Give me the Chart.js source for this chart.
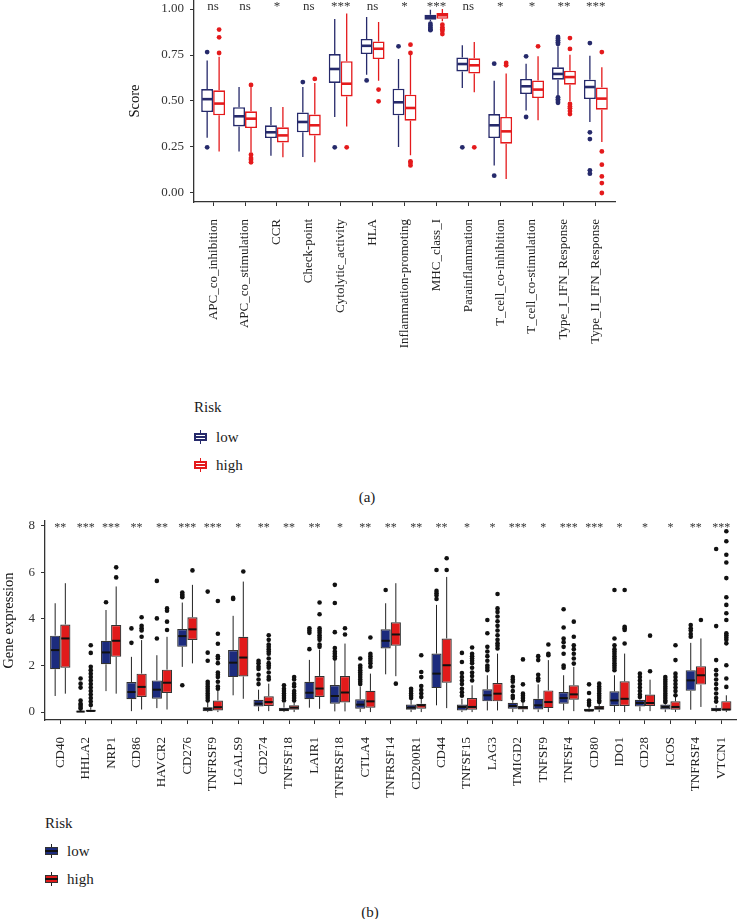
<!DOCTYPE html>
<html>
<head>
<meta charset="utf-8">
<script src="https://cdn.jsdelivr.net/npm/chart.js@4.4.1/dist/chart.umd.min.js"></script>
<style>
  html, body { margin: 0; padding: 0; background: #fff; }
  body { width: 744px; height: 919px; position: relative; overflow: hidden;
         font-family: 'Liberation Serif', 'DejaVu Serif', serif; color: #1a1a1a; }
  canvas { position: absolute; left: 0; }
  #chartA { top: -14px; }
  #chartB { top: 507px; }
  .lbl { position: absolute; font-size: 15px; line-height: 16px; white-space: nowrap; }
  .cap { transform: translateX(-50%); }
  .key { position: absolute; width: 13px; height: 14px; }
  .key .w { position: absolute; left: 5.5px; top: 0; width: 1.5px; height: 14px; }
  .key .b { position: absolute; left: 0; top: 3px; width: 13px; height: 8px; box-sizing: border-box; border: 2px solid; }
  .key .m { position: absolute; left: 0; top: 6px; width: 13px; height: 2px; }
</style>
</head>
<body>
<canvas id="chartA" width="744" height="406"></canvas>
<canvas id="chartB" width="750" height="303"></canvas>

<!-- legend (a) -->
<div class="lbl" style="left:194px;top:399px">Risk</div>
<div class="key" style="left:194px;top:430px">
  <div class="w" style="background:#262A6B"></div>
  <div class="b" style="border-color:#262A6B;background:#fff"></div>
  <div class="m" style="background:#262A6B"></div>
</div>
<div class="lbl" style="left:216px;top:429px">low</div>
<div class="key" style="left:194px;top:458px">
  <div class="w" style="background:#E41A1C"></div>
  <div class="b" style="border-color:#E41A1C;background:#fff"></div>
  <div class="m" style="background:#E41A1C"></div>
</div>
<div class="lbl" style="left:216px;top:457px">high</div>
<div class="lbl cap" style="left:367px;top:489px">(a)</div>

<!-- legend (b) -->
<div class="lbl" style="left:45px;top:815px">Risk</div>
<div class="key" style="left:45px;top:844px">
  <div class="w" style="background:#222"></div>
  <div class="b" style="border:1px solid #333;background:#1C2B7D"></div>
  <div class="m" style="background:#111"></div>
</div>
<div class="lbl" style="left:67px;top:843px">low</div>
<div class="key" style="left:45px;top:872px">
  <div class="w" style="background:#222"></div>
  <div class="b" style="border:1px solid #333;background:#E11B1B"></div>
  <div class="m" style="background:#111"></div>
</div>
<div class="lbl" style="left:67px;top:871px">high</div>
<div class="lbl cap" style="left:370px;top:904px">(b)</div>

<script>
// ---------- panel (a): immune function scores ----------
const aCats = ["APC_co_inhibition", "APC_co_stimulation", "CCR", "Check-point", "Cytolytic_activity", "HLA",
  "Inflammation-promoting", "MHC_class_I", "Parainflammation", "T_cell_co-inhibition", "T_cell_co-stimulation",
  "Type_I_IFN_Response", "Type_II_IFN_Response"];
const aSig = ["ns", "ns", "*", "ns", "***", "ns", "*", "***", "ns", "*", "*", "**", "***"];
const aYTicks = [0, 0.25, 0.5, 0.75, 1];

const aLowMin = [0.30, 0.226, 0.203, 0.196, 0.413, 0.643, 0.25, 0.933, 0.571, 0.15, 0.449, 0.529, 0.386];
const aLowQ1 = [0.44, 0.362, 0.299, 0.33, 0.598, 0.755, 0.422, 0.942, 0.661, 0.299, 0.538, 0.616, 0.511];
const aLowMed = [0.51, 0.417, 0.33, 0.386, 0.674, 0.80, 0.493, 0.957, 0.701, 0.368, 0.58, 0.647, 0.576];
const aLowQ3 = [0.565, 0.466, 0.368, 0.438, 0.755, 0.837, 0.567, 0.969, 0.737, 0.429, 0.62, 0.683, 0.616];
const aLowMax = [0.72, 0.576, 0.467, 0.576, 0.946, 0.957, 0.728, 0.996, 0.803, 0.61, 0.703, 0.797, 0.746];
const aLowOut = [[0.766, 0.248], [], [], [0.603], [0.248], [0.612], [0.797], [0.92, 0.91, 0.90, 0.89, 0.885],
  [0.248], [0.703, 0.094], [0.743, 0.413], [0.848, 0.84, 0.83, 0.82, 0.81, 0.52, 0.51, 0.50, 0.49],
  [0.815, 0.33, 0.293, 0.123, 0.105]];

const aHighMin = [0.226, 0.22, 0.194, 0.167, 0.362, 0.61, 0.205, 0.933, 0.547, 0.076, 0.395, 0.498, 0.277];
const aHighQ1 = [0.422, 0.353, 0.275, 0.313, 0.525, 0.728, 0.393, 0.947, 0.649, 0.268, 0.516, 0.589, 0.453];
const aHighMed = [0.486, 0.404, 0.313, 0.368, 0.594, 0.784, 0.462, 0.966, 0.694, 0.335, 0.562, 0.63, 0.513];
const aHighQ3 = [0.558, 0.444, 0.357, 0.426, 0.716, 0.824, 0.534, 0.978, 0.732, 0.413, 0.612, 0.665, 0.574];
const aHighMax = [0.74, 0.575, 0.467, 0.598, 0.975, 0.929, 0.75, 1.0, 0.821, 0.649, 0.743, 0.752, 0.683];
const aHighOut = [[0.888, 0.846, 0.761], [0.587, 0.208, 0.19, 0.18, 0.167], [], [0.62], [0.248], [0.562, 0.498],
  [0.806, 0.761, 0.172, 0.163, 0.15], [0.915, 0.90, 0.89, 0.88, 0.864], [0.248], [0.707, 0.694], [0.797],
  [0.842, 0.783, 0.484, 0.47, 0.46, 0.445, 0.429], [0.766, 0.226, 0.154, 0.09, 0.054, 0.0]];

// ---------- panel (b): immune checkpoint gene expression ----------
const bCats = ["CD40", "HHLA2", "NRP1", "CD86", "HAVCR2", "CD276", "TNFRSF9", "LGALS9", "CD274", "TNFSF18", "LAIR1",
  "TNFRSF18", "CTLA4", "TNFRSF14", "CD200R1", "CD44", "TNFSF15", "LAG3", "TMIGD2", "TNFSF9", "TNFSF4", "CD80",
  "IDO1", "CD28", "ICOS", "TNFRSF4", "VTCN1"];
const bSig = ["**", "***", "***", "**", "**", "***", "***", "*", "**", "**", "**", "*", "**", "**", "**", "**", "*",
  "*", "***", "*", "***", "***", "*", "*", "*", "**", "***"];
const bYTicks = [0, 2, 4, 6, 8];

const bLowMin = [0.69, 0, 0.9, 0.04, 0.17, 1.94, 0, 0.72, 0.04, 0, 0.19, 0.03, 0, 1.62, 0, 0.29, 0, 0.07, 0, 0, 0.07, 0, 0, 0.04, 0, 0.1, 0];
const bLowQ1 = [1.84, 0, 2.05, 0.55, 0.57, 2.8, 0.04, 1.5, 0.24, 0.04, 0.55, 0.36, 0.14, 2.73, 0.1, 1.03, 0.07, 0.46, 0.14, 0.11, 0.36, 0.03, 0.26, 0.24, 0.11, 0.91, 0.04];
const bLowMed = [2.66, 0.02, 2.56, 0.86, 0.96, 3.26, 0.14, 2.12, 0.36, 0.11, 0.83, 0.69, 0.32, 3.06, 0.19, 1.65, 0.22, 0.72, 0.26, 0.29, 0.6, 0.07, 0.5, 0.39, 0.22, 1.36, 0.11];
const bLowQ3 = [3.28, 0.05, 3.06, 1.29, 1.36, 3.56, 0.21, 2.66, 0.53, 0.19, 1.3, 1.16, 0.55, 3.55, 0.32, 2.51, 0.32, 0.98, 0.4, 0.57, 0.86, 0.14, 0.89, 0.53, 0.32, 1.8, 0.19];
const bLowMax = [4.67, 0.1, 4.38, 2.37, 2.44, 4.7, 0.45, 4.13, 0.96, 0.39, 2.24, 2.24, 1.09, 4.67, 0.5, 4.6, 0.57, 1.58, 0.5, 1.19, 1.58, 0.22, 1.58, 0.57, 0.36, 2.97, 0.29];
const bLowOut = [[], [1.44, 1.22, 1.05, 0.5, 0.36, 0.3, 0.22, 0.15], [4.71], [3.59, 2.97], [5.63, 4.02, 3.16],
  [5.13, 5.05, 4.98, 4.93, 1.15], [5.17, 2.55, 2.2, 1.3, 1.2, 1.1, 1.0, 0.9, 0.8, 0.7, 0.6, 0.5], [4.9, 4.85],
  [2.2, 2.1, 1.95, 1.85, 1.6, 1.4, 1.2], [1.15, 1.0, 0.9, 0.8, 0.7, 0.6, 0.5], [3.6, 3.5, 3.4, 2.7],
  [5.46, 4.68, 3.43, 2.75, 2.6, 2.5, 2.4, 2.3], [2.3, 2.0, 1.9, 1.8, 1.7, 1.6, 1.5, 1.4, 1.3, 1.2], [5.24],
  [1.0, 0.9, 0.8, 0.7, 0.6], [6.1, 5.2, 5.1, 5.0, 4.85], [2.54, 2.15, 1.68, 1.5, 1.35, 1.2, 1.0, 0.85, 0.7],
  [3.95, 3.38, 2.8, 2.6, 2.4, 2.2, 2.0, 1.9, 1.8], [1.5, 1.4, 1.3, 1.1, 0.9, 0.7, 0.6], [2.4, 2.23, 1.6, 1.45, 1.36],
  [4.41, 3.63, 3.16, 3.0, 2.8, 2.5, 2.0, 1.9], [1.19, 0.82, 0.5, 0.4, 0.3],
  [5.24, 3.16, 2.87, 2.7, 2.6, 2.5, 2.4, 2.3, 2.2, 2.1, 2.0, 1.9, 1.8], [1.65, 1.5, 1.35, 1.2, 1.05, 0.9, 0.75, 0.65],
  [1.5, 1.4, 1.3, 1.2, 1.1, 1.0, 0.9, 0.8, 0.7, 0.6, 0.5, 0.43], [3.74, 3.6, 3.5, 3.35, 3.23],
  [7.0, 3.69, 2.23, 1.8, 1.6, 1.4, 1.2, 1.0, 0.8, 0.6, 0.45]];

const bHighMin = [0.79, 0, 0.79, 0.11, 0.11, 2.09, 0, 0.57, 0.04, 0, 0.14, 0.03, 0, 1.54, 0, 0.17, 0, 0.07, 0, 0, 0.04, 0, 0, 0.04, 0, 0.22, 0];
const bHighQ1 = [1.9, 0.01, 2.37, 0.65, 0.82, 3.09, 0.07, 1.53, 0.26, 0.1, 0.65, 0.41, 0.19, 2.85, 0.14, 1.26, 0.1, 0.46, 0.11, 0.17, 0.53, 0.1, 0.26, 0.26, 0.1, 1.18, 0.07];
const bHighMed = [3.16, 0.05, 3.06, 1.08, 1.26, 3.55, 0.21, 2.34, 0.43, 0.19, 1.01, 0.84, 0.46, 3.33, 0.29, 2.01, 0.22, 0.79, 0.19, 0.43, 0.76, 0.17, 0.57, 0.39, 0.22, 1.58, 0.11];
const bHighQ3 = [3.76, 0.1, 3.74, 1.65, 1.82, 4.07, 0.5, 3.23, 0.68, 0.29, 1.55, 1.55, 0.91, 3.85, 0.36, 3.16, 0.6, 1.25, 0.26, 0.93, 1.15, 0.26, 1.32, 0.75, 0.46, 1.97, 0.47];
const bHighMax = [5.53, 0.2, 5.39, 3.09, 3.23, 5.46, 0.93, 5.6, 1.22, 0.43, 2.68, 2.94, 1.65, 5.53, 0.57, 5.8, 1.15, 2.51, 0.43, 2.23, 1.94, 0.39, 2.51, 1.39, 0.65, 3.16, 0.72];
const bHighOut = [[], [2.87, 2.54, 1.94, 1.8, 1.65, 1.5, 1.36, 1.2, 1.05, 0.9, 0.75, 0.6, 0.45, 0.3], [6.21, 5.78],
  [4.07, 3.7, 3.6, 3.5, 3.23], [4.45, 4.35, 3.88, 3.52], [6.08], [4.77, 3.36, 2.93, 2.4, 2.3, 2.1, 1.7, 1.6, 1.5, 1.3, 1.1, 1.0],
  [6.03], [3.3, 3.1, 2.9, 2.8, 2.7, 2.6, 2.5, 2.3, 2.1, 2.0, 1.9, 1.7, 1.5, 1.4], [1.5, 1.4, 1.2, 1.1, 0.9, 0.8, 0.7, 0.6, 0.5],
  [4.7, 4.2, 3.6, 3.5, 3.4, 3.3, 3.2, 3.1, 2.9, 2.8], [3.6, 3.33], [3.2, 2.5, 2.4, 2.3, 2.2, 2.1, 1.95], [1.22],
  [2.44, 1.72, 1.5, 1.12, 0.95, 0.8, 0.65], [6.6, 6.1], [2.77, 2.5, 2.4, 2.3, 2.2, 2.1, 1.9, 1.7, 1.55, 1.36],
  [5.07, 4.45, 4.3, 4.1, 3.9, 3.7, 3.5, 3.3, 3.1, 2.95, 2.85, 2.73], [2.26, 1.19, 0.79, 0.7, 0.6, 0.5], [2.9, 2.5, 2.44],
  [3.88, 3.23, 2.87, 2.7, 2.5, 2.3, 2.08], [1.22, 1.1, 1.0, 0.9, 0.8, 0.7, 0.6, 0.5, 0.43], [5.24, 3.66, 3.6, 3.52, 2.94],
  [3.28, 1.75], [2.87, 2.23, 1.65, 1.5, 1.35, 1.2, 1.05, 0.9, 0.72], [3.95],
  [7.76, 7.33, 6.75, 6.42, 5.75, 4.93, 4.6, 4.24, 3.95, 3.38, 3.3, 3.2, 3.1, 2.95, 2.01, 1.44, 1.08]];

Chart.defaults.font.family = "'Liberation Serif', 'DejaVu Serif', serif";
Chart.defaults.font.size = 13;
Chart.defaults.color = '#333';

function boxes(q1, q3) {
  return q1.map((v, i) => ({ x: i, y: [v, q3[i]] }));
}

// whiskers under the boxes, medians / outliers / significance on top
function boxPlugin(groups, sig, sigY, sigSize, style) {
  return {
    id: 'boxStats',
    beforeDatasetsDraw(chart) {
      const ctx = chart.ctx, ys = chart.scales.y;
      groups.forEach((g, d) => {
        ctx.save();
        ctx.strokeStyle = g.whisker;
        ctx.lineWidth = style.whiskerWidth;
        chart.getDatasetMeta(d).data.forEach((el, i) => {
          ctx.beginPath();
          ctx.moveTo(el.x, ys.getPixelForValue(g.max[i]));
          ctx.lineTo(el.x, ys.getPixelForValue(g.q3[i]));
          ctx.moveTo(el.x, ys.getPixelForValue(g.q1[i]));
          ctx.lineTo(el.x, ys.getPixelForValue(g.min[i]));
          ctx.stroke();
        });
        ctx.restore();
      });
    },
    afterDatasetsDraw(chart) {
      const ctx = chart.ctx, ys = chart.scales.y, xs = chart.scales.x;
      groups.forEach((g, d) => {
        ctx.save();
        chart.getDatasetMeta(d).data.forEach((el, i) => {
          const half = el.width / 2 - style.medInset;
          const my = ys.getPixelForValue(g.med[i]);
          ctx.strokeStyle = g.median;
          ctx.lineWidth = style.medWidth;
          ctx.beginPath();
          ctx.moveTo(el.x - half, my);
          ctx.lineTo(el.x + half, my);
          ctx.stroke();
          ctx.fillStyle = g.point;
          g.out[i].forEach(v => {
            ctx.beginPath();
            ctx.arc(el.x, ys.getPixelForValue(v), style.pointR, 0, Math.PI * 2);
            ctx.fill();
          });
        });
        ctx.restore();
      });
      ctx.save();
      ctx.fillStyle = '#333';
      ctx.font = sigSize + "px 'Liberation Serif', 'DejaVu Serif', serif";
      ctx.textAlign = 'center';
      ctx.textBaseline = 'middle';
      sig.forEach((s, i) => ctx.fillText(s, xs.getPixelForValue(i), ys.getPixelForValue(sigY)));
      ctx.restore();
    }
  };
}

function axes(cats, yTicks, yMin, yMax, yFmt, yTitle, yWidth, xHeight, yTitlePad) {
  const grid = { drawOnChartArea: false, tickLength: 4, color: '#333', lineWidth: 1 };
  const border = { display: true, color: '#333', width: 1.3 };
  return {
    x: {
      type: 'linear', min: -0.6, max: cats.length - 0.4, offset: false,
      grid: Object.assign({ offset: false }, grid), border: border,
      afterBuildTicks: s => { s.ticks = cats.map((c, i) => ({ value: i })); },
      afterFit: s => { s.height = xHeight; },
      ticks: { autoSkip: false, minRotation: 90, maxRotation: 90, padding: 13, color: '#222',
               callback: v => cats[v] }
    },
    y: {
      min: yMin, max: yMax, grid: grid, border: border,
      afterBuildTicks: s => { s.ticks = yTicks.map(v => ({ value: v })); },
      afterFit: s => { s.width = yWidth; },
      ticks: { padding: 6, color: '#333', callback: yFmt },
      title: { display: true, text: yTitle, color: '#111', font: { size: 14.5 }, padding: { top: yTitlePad, bottom: 0 } }
    }
  };
}

const aLowCol = '#262A6B', aHighCol = '#E41A1C';
new Chart(document.getElementById('chartA'), {
  type: 'bar',
  data: {
    datasets: [
      { label: 'low', data: boxes(aLowQ1, aLowQ3), backgroundColor: '#fff', borderColor: aLowCol,
        borderWidth: 1.6, borderSkipped: false, categoryPercentage: 0.75, barPercentage: 1 },
      { label: 'high', data: boxes(aHighQ1, aHighQ3), backgroundColor: '#fff', borderColor: aHighCol,
        borderWidth: 1.6, borderSkipped: false, categoryPercentage: 0.75, barPercentage: 1 }
    ]
  },
  options: {
    responsive: false, animation: false,
    layout: { padding: { left: 125, right: 129, top: 14, bottom: 0 } },
    plugins: { legend: { display: false }, tooltip: { enabled: false } },
    scales: axes(aCats, aYTicks, -0.049, 1.049, v => v.toFixed(2), 'Score', 69, 190, 1)
  },
  plugins: [boxPlugin([
    { min: aLowMin, q1: aLowQ1, med: aLowMed, q3: aLowQ3, max: aLowMax, out: aLowOut,
      whisker: aLowCol, median: aLowCol, point: aLowCol },
    { min: aHighMin, q1: aHighQ1, med: aHighMed, q3: aHighQ3, max: aHighMax, out: aHighOut,
      whisker: aHighCol, median: aHighCol, point: aHighCol }
  ], aSig, 1.013, 13, { whiskerWidth: 1.3, medWidth: 2.6, medInset: 1, pointR: 2.4 })]
});

new Chart(document.getElementById('chartB'), {
  type: 'bar',
  data: {
    datasets: [
      { label: 'low', data: boxes(bLowQ1, bLowQ3), backgroundColor: '#1C2B7D', borderColor: '#333',
        borderWidth: 1.2, borderSkipped: false, categoryPercentage: 0.8, barPercentage: 1 },
      { label: 'high', data: boxes(bHighQ1, bHighQ3), backgroundColor: '#E11B1B', borderColor: '#333',
        borderWidth: 1.2, borderSkipped: false, categoryPercentage: 0.8, barPercentage: 1 }
    ]
  },
  options: {
    responsive: false, animation: false,
    layout: { padding: { left: 0, right: 7, top: 14, bottom: 0 } },
    plugins: { legend: { display: false }, tooltip: { enabled: false } },
    scales: axes(bCats, bYTicks, -0.34, 8.2, v => String(v), 'Gene expression', 45, 90, 0)
  },
  plugins: [boxPlugin([
    { min: bLowMin, q1: bLowQ1, med: bLowMed, q3: bLowQ3, max: bLowMax, out: bLowOut,
      whisker: '#222', median: '#111', point: '#111' },
    { min: bHighMin, q1: bHighQ1, med: bHighMed, q3: bHighQ3, max: bHighMax, out: bHighOut,
      whisker: '#222', median: '#111', point: '#111' }
  ], bSig, 7.9, 12, { whiskerWidth: 1, medWidth: 2, medInset: 1, pointR: 2.3 })]
});
</script>
</body>
</html>
